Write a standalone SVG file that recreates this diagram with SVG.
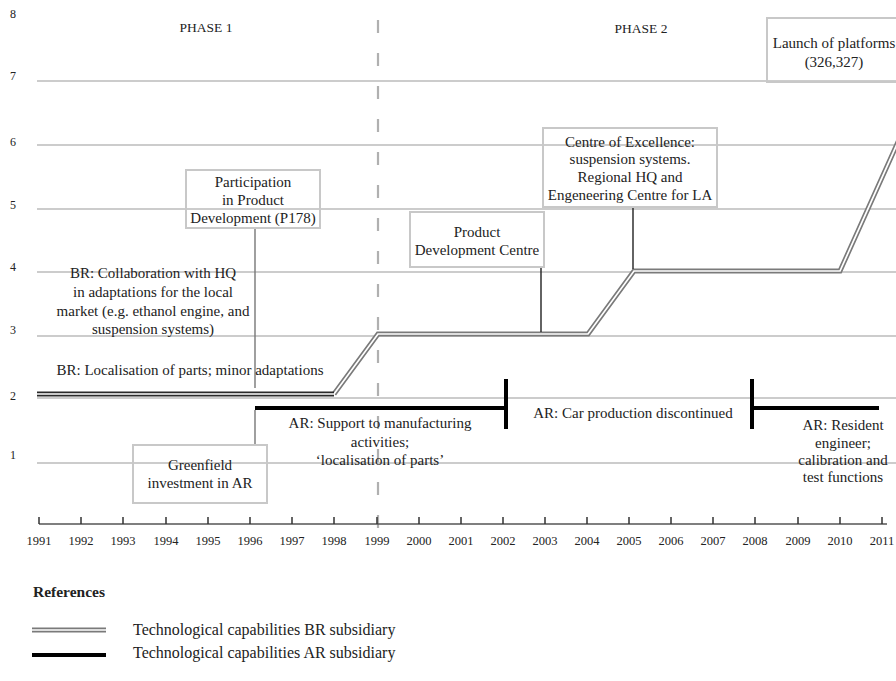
<svg xmlns="http://www.w3.org/2000/svg" width="896" height="681" viewBox="0 0 896 681">
<style>
text{font-family:"Liberation Serif","Times New Roman",serif;fill:#222}
.t{font-size:15px;text-anchor:middle}
.yr{font-size:12.5px;text-anchor:middle}
.yl{font-size:12px;text-anchor:middle}
.grid{stroke:#9a9a9a;stroke-width:1.2;fill:none}
.box{fill:none;stroke:#c8c8c8;stroke-width:2}
.br-o{fill:none;stroke:#7a7a7a;stroke-width:5;stroke-linejoin:miter}
.br-i{fill:none;stroke:#fff;stroke-width:1.7;stroke-linejoin:miter}
.ar{stroke:#000;stroke-width:4;fill:none}
.conn{stroke:#222;stroke-width:1.4;fill:none}
.conng{stroke:#777;stroke-width:1.4;fill:none}
</style>
<rect width="896" height="681" fill="#fff"/>
<g id="grid">
<line class="grid" x1="37" y1="81" x2="896" y2="81"/>
<line class="grid" x1="37" y1="145" x2="896" y2="145"/>
<line class="grid" x1="37" y1="209" x2="896" y2="209"/>
<line class="grid" x1="37" y1="272" x2="896" y2="272"/>
<line class="grid" x1="37" y1="336" x2="896" y2="336"/>
<line class="grid" x1="37" y1="398" x2="896" y2="398"/>
<line class="grid" x1="37" y1="463" x2="896" y2="463"/>
<text class="yl" x="13" y="18">8</text>
<text class="yl" x="13" y="80">7</text>
<text class="yl" x="13" y="146">6</text>
<text class="yl" x="13" y="209">5</text>
<text class="yl" x="13" y="271">4</text>
<text class="yl" x="13" y="334">3</text>
<text class="yl" x="13" y="400">2</text>
<text class="yl" x="13" y="459">1</text>
</g>
<line id="phase-divider" x1="378" y1="20" x2="378" y2="530" stroke="#b0b0b0" stroke-width="2.2" stroke-dasharray="13 20"/>
<text x="206" y="32" style="font-size:13.5px;text-anchor:middle">PHASE 1</text>
<text x="641" y="33" style="font-size:13.5px;text-anchor:middle">PHASE 2</text>
<g id="axis">
<line x1="39" y1="524" x2="887" y2="524" stroke="#555" stroke-width="1.5"/>
<path d="M39 517V524M81 517V524M123 517V524M166 517V524M208 517V524M250 517V524M292 517V524M334 517V524M377 517V524M419 517V524M461 517V524M503 517V524M545 517V524M587 517V524M629 517V524M671 517V524M713 517V524M755 517V524M798 517V524M840 517V524M882 517V524" stroke="#333" stroke-width="1.5"/>
<text class="yr" x="39" y="545">1991</text>
<text class="yr" x="81" y="545">1992</text>
<text class="yr" x="123" y="545">1993</text>
<text class="yr" x="166" y="545">1994</text>
<text class="yr" x="208" y="545">1995</text>
<text class="yr" x="250" y="545">1996</text>
<text class="yr" x="292" y="545">1997</text>
<text class="yr" x="334" y="545">1998</text>
<text class="yr" x="377" y="545">1999</text>
<text class="yr" x="419" y="545">2000</text>
<text class="yr" x="461" y="545">2001</text>
<text class="yr" x="503" y="545">2002</text>
<text class="yr" x="545" y="545">2003</text>
<text class="yr" x="587" y="545">2004</text>
<text class="yr" x="629" y="545">2005</text>
<text class="yr" x="671" y="545">2006</text>
<text class="yr" x="713" y="545">2007</text>
<text class="yr" x="755" y="545">2008</text>
<text class="yr" x="798" y="545">2009</text>
<text class="yr" x="840" y="545">2010</text>
<text class="yr" x="882" y="545">2011</text>
</g>
<g id="connectors">
<path class="br-o" d="M334 394L378 334H588L634 271H840L902 133"/>
<path class="br-i" d="M334 394L378 334H588L634 271H840L902 133"/>
<path class="br-o" style="stroke:#2a2a2a" d="M37 394H334"/>
<path class="br-i" d="M37 394H335"/>
<line class="ar" x1="255" y1="408" x2="506" y2="408"/>
<line class="ar" x1="506" y1="379" x2="506" y2="429"/>
<line class="ar" x1="752" y1="379" x2="752" y2="429"/>
<line class="ar" x1="752" y1="408" x2="879" y2="408"/>
<line class="conng" x1="255" y1="228" x2="255" y2="388"/>
<line class="conng" x1="255" y1="410" x2="255" y2="445"/>
<line class="conn" x1="541" y1="267" x2="541" y2="332"/>
<line class="conn" x1="633" y1="207" x2="633" y2="269"/>
</g>
<g id="participation">
<rect class="box" x="186" y="170" width="134" height="58"/>
<text class="t" x="253" y="187">Participation</text>
<text class="t" x="253" y="205">in Product</text>
<text class="t" x="253" y="223">Development (P178)</text>
</g>
<g id="product-dev-centre">
<rect class="box" x="410" y="212" width="134" height="55"/>
<text class="t" x="477" y="237">Product</text>
<text class="t" x="477" y="255">Development Centre</text>
</g>
<g id="centre-excellence">
<rect class="box" x="543" y="128" width="174" height="79"/>
<text class="t" x="630" y="147">Centre of Excellence:</text>
<text class="t" x="630" y="164">suspension systems.</text>
<text class="t" x="630" y="182">Regional HQ and</text>
<text class="t" x="630" y="200">Engeneering Centre for LA</text>
</g>
<g id="launch">
<rect class="box" x="767" y="18" width="132" height="64"/>
<text class="t" x="834" y="48">Launch of platforms</text>
<text class="t" x="834" y="67">(326,327)</text>
</g>
<g id="greenfield">
<rect class="box" x="133" y="445" width="134" height="58"/>
<text class="t" x="200" y="470">Greenfield</text>
<text class="t" x="200" y="488">investment in AR</text>
</g>
<g id="br-collaboration">
<text class="t" x="153" y="278">BR: Collaboration with HQ</text>
<text class="t" x="153" y="297">in adaptations for the local</text>
<text class="t" x="153" y="316">market (e.g. ethanol engine, and</text>
<text class="t" x="153" y="334">suspension systems)</text>
</g>
<g id="br-localisation">
<text class="t" x="190" y="375">BR: Localisation of parts; minor adaptations</text>
</g>
<g id="ar-support">
<text class="t" x="380" y="428">AR: Support to manufacturing</text>
<text class="t" x="380" y="447">activities;</text>
<text class="t" x="380" y="465">‘localisation of parts’</text>
</g>
<g id="ar-discontinued">
<text class="t" x="633" y="418">AR: Car production discontinued</text>
</g>
<g id="ar-resident">
<text class="t" x="843" y="430">AR: Resident</text>
<text class="t" x="843" y="448">engineer;</text>
<text class="t" x="843" y="465">calibration and</text>
<text class="t" x="843" y="482">test functions</text>
</g>
<g id="legend">
<text x="33" y="597" style="font-size:15.5px;font-weight:bold">References</text>
<line class="br-o" x1="32" y1="630" x2="106" y2="630"/>
<line class="br-i" x1="32" y1="630" x2="106" y2="630"/>
<text x="133" y="635" style="font-size:16px">Technological capabilities BR subsidiary</text>
<line class="ar" x1="32" y1="655" x2="106" y2="655"/>
<text x="133" y="658" style="font-size:16px">Technological capabilities AR subsidiary</text>
</g>
</svg>
